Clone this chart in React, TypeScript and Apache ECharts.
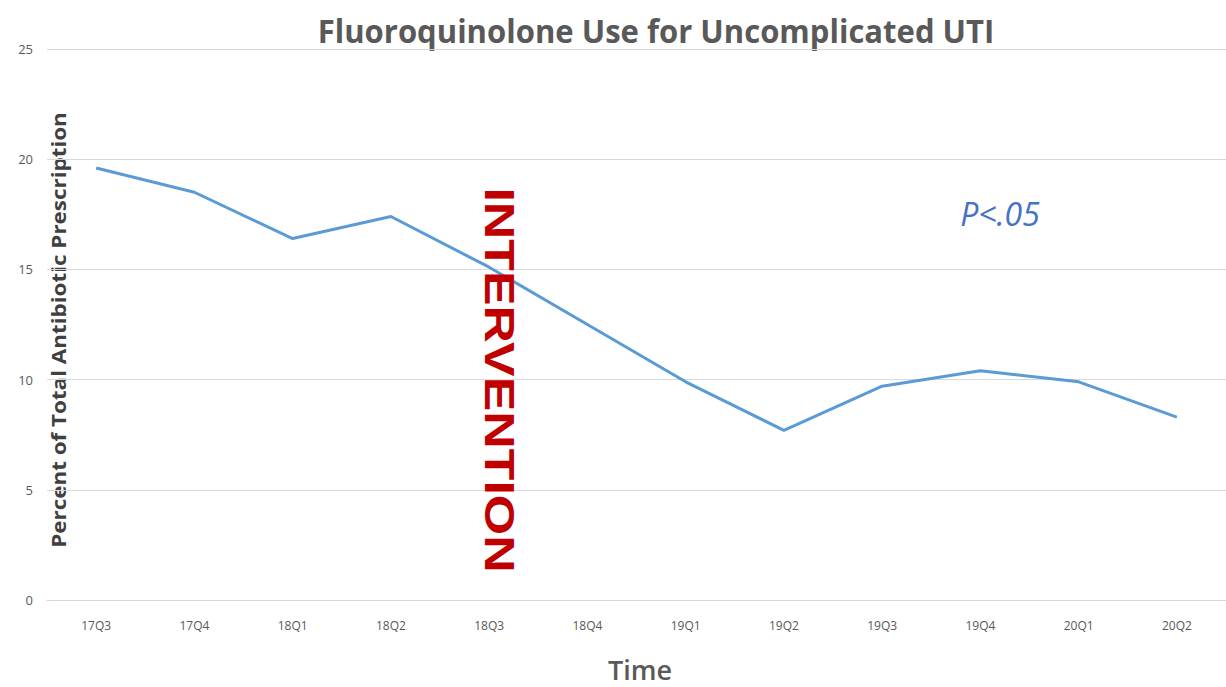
import React, { useEffect, useRef } from "react";
import * as echarts from "echarts";

const categories = ["17Q3", "17Q4", "18Q1", "18Q2", "18Q3", "18Q4", "19Q1", "19Q2", "19Q3", "19Q4", "20Q1", "20Q2"];
const fluoroquinoloneUse = [19.6, 18.5, 16.4, 17.4, 15.1, 12.5, 9.9, 7.7, 9.7, 10.4, 9.9, 8.3];
const yTicks = { min: 0, max: 25, interval: 5 };
const titleText = "Fluoroquinolone Use for Uncomplicated UTI";
const yAxisTitle = "Percent of Total Antibiotic Prescription";
const xAxisTitle = "Time";
const interventionLabel = "INTERVENTION";
const pValueLabel = "P<.05";

export default function App() {
  const ref = useRef<HTMLDivElement>(null);
  useEffect(() => {
    if (!ref.current) return;
    const chart = echarts.init(ref.current, undefined, { renderer: "svg" });
    chart.setOption({
      animation: false,
      backgroundColor: "#ffffff",
      grid: { left: 47, top: 49, width: 1187, height: 551, containLabel: false },
      xAxis: {
        type: "category",
        data: categories,
        boundaryGap: true,
        axisLine: { show: true, lineStyle: { color: "#D9D9D9", width: 1 } },
        axisTick: { show: false },
        axisLabel: { color: "#595959", fontSize: 12, margin: 19, fontFamily: "Open Sans" },
      },
      yAxis: {
        type: "value",
        min: yTicks.min,
        max: yTicks.max,
        interval: yTicks.interval,
        axisLine: { show: false },
        axisTick: { show: false },
        axisLabel: { color: "#595959", fontSize: 13, margin: 14, fontFamily: "Open Sans" },
        splitLine: { lineStyle: { color: "#D9D9D9", width: 1 } },
      },
      series: [
        {
          type: "line",
          data: fluoroquinoloneUse,
          symbol: "none",
          lineStyle: { color: "#5B9BD5", width: 3 },
          z: 3,
        },
      ],
      graphic: [
        {
          type: "text",
          x: 656,
          y: 30,
          scaleX: 0.97,
          style: {
            text: titleText,
            fill: "#595959",
            font: "bold 32px 'Open Sans'",
            textAlign: "center",
            textVerticalAlign: "middle",
          },
        },
        {
          type: "text",
          x: 59,
          y: 330,
          rotation: Math.PI / 2,
          scaleX: 1.18,
          style: {
            text: yAxisTitle,
            fill: "#404040",
            font: "bold 19px 'Open Sans'",
            textAlign: "center",
            textVerticalAlign: "middle",
          },
        },
        {
          type: "text",
          x: 640,
          y: 669,
          style: {
            text: xAxisTitle,
            fill: "#595959",
            font: "600 27px 'Open Sans'",
            textAlign: "center",
            textVerticalAlign: "middle",
          },
        },
        {
          type: "text",
          x: 500,
          y: 380,
          rotation: -Math.PI / 2,
          scaleX: 1.235,
          z: 10,
          style: {
            text: interventionLabel,
            fill: "#C00000",
            font: "bold 42px 'Liberation Sans'",
            textAlign: "center",
            textVerticalAlign: "middle",
          },
        },
        {
          type: "text",
          x: 1000,
          y: 213,
          style: {
            text: pValueLabel,
            fill: "#4472C4",
            font: "italic 32px 'Open Sans'",
            textAlign: "center",
            textVerticalAlign: "middle",
          },
        },
      ],
    });
    return () => chart.dispose();
  }, []);
  return <div ref={ref} style={{ position: "fixed", left: 0, top: 0, width: 1226, height: 687 }} />;
}
